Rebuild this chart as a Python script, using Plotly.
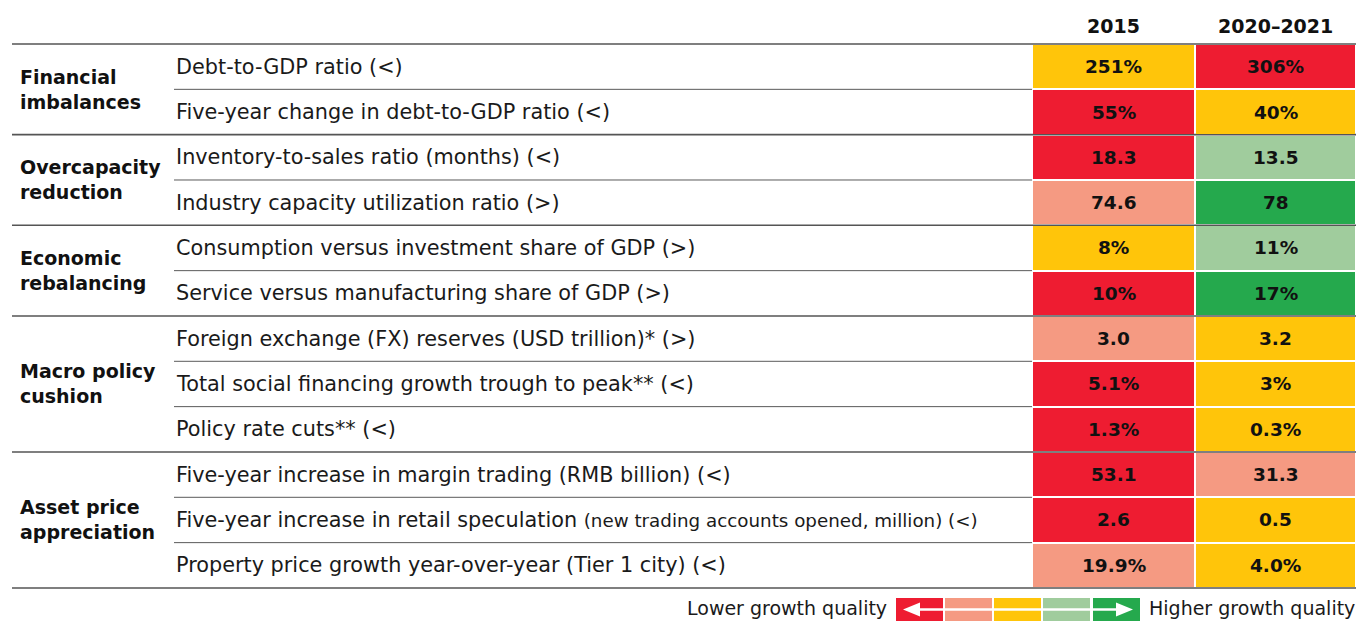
import plotly.graph_objects as go

# ---------------- data ----------------
columns = ["2015", "2020–2021"]
groups = ["Financial<br>imbalances", "Overcapacity<br>reduction", "Economic<br>rebalancing",
          "Macro policy<br>cushion", "Asset price<br>appreciation"]
group_sizes = [2, 2, 2, 3, 3]
indicators = [
    "Debt-to-GDP ratio (<)",
    "Five-year change in debt-to-GDP ratio (<)",
    "Inventory-to-sales ratio (months) (<)",
    "Industry capacity utilization ratio (>)",
    "Consumption versus investment share of GDP (>)",
    "Service versus manufacturing share of GDP (>)",
    "Foreign exchange (FX) reserves (USD trillion)* (>)",
    "Total social financing growth trough to peak** (<)",
    "Policy rate cuts** (<)",
    "Five-year increase in margin trading (RMB billion) (<)",
    "Five-year increase in retail speculation <span style='font-size:18.3px'>(new trading accounts opened, million) (<)</span>",
    "Property price growth year-over-year (Tier 1 city) (<)",
]
values_2015 = ["251%", "55%", "18.3", "74.6", "8%", "10%", "3.0", "5.1%", "1.3%", "53.1", "2.6", "19.9%"]
values_2021 = ["306%", "40%", "13.5", "78", "11%", "17%", "3.2", "3%", "0.3%", "31.3", "0.5", "4.0%"]
# rating: 0 = lower growth quality ... 4 = higher growth quality
rating_2015 = [2, 0, 0, 1, 2, 0, 1, 0, 0, 0, 0, 1]
rating_2021 = [0, 2, 3, 4, 3, 4, 2, 2, 2, 1, 2, 2]
legend_labels = ["Lower growth quality", "Higher growth quality"]

# ---------------- styling / layout ----------------
palette = ["#EE1C31", "#F59A82", "#FFC50A", "#A0CC9D", "#25A94D"]
W, H = 1356, 621
FONT = "DejaVu Sans"
FS = 20.8
FSB = 18.5
FSL = 19.0
TOP = 44.0
ROW_H = 45.33
X_LEFT = 12
X_LABEL = 174
X_CELL = [1032, 1195, 1356]
n = len(indicators)
row_edges = [TOP + i * ROW_H for i in range(n + 1)]
row_centers = [TOP + (i + 0.5) * ROW_H for i in range(n)]

colorscale = []
for k, c in enumerate(palette):
    colorscale.append([k / len(palette), c])
    colorscale.append([(k + 1) / len(palette), c])

fig = go.Figure()
z = [[rating_2015[i], rating_2021[i]] for i in range(n)]
fig.add_trace(go.Heatmap(
    x=X_CELL, y=row_edges, z=z, colorscale=colorscale, zmin=-0.5, zmax=4.5,
    showscale=False, xgap=2, ygap=2, hoverinfo="skip"))

annotations = []
shapes = []

# header
for j, col in enumerate(columns):
    annotations.append(dict(x=(X_CELL[j] + X_CELL[j + 1]) / 2, y=26, text=f"<b>{col}</b>",
                            showarrow=False, font=dict(family=FONT, size=FSB + 0.5, color="#111")))

# indicator labels and cell values
for i in range(n):
    annotations.append(dict(x=174, y=row_centers[i], text=indicators[i], xanchor="left",
                            showarrow=False, font=dict(family=FONT, size=FS, color="#1a1a1a")))
    for j, vals in enumerate([values_2015, values_2021]):
        annotations.append(dict(x=(X_CELL[j] + X_CELL[j + 1]) / 2, y=row_centers[i],
                                text=f"<b>{vals[i]}</b>", showarrow=False,
                                font=dict(family=FONT, size=FSB, color="#111")))

# row separators inside groups
start = 0
for g, size in enumerate(group_sizes):
    for k in range(1, size):
        yy = row_edges[start + k]
        shapes.append(dict(type="line", xref="x", yref="y", x0=X_LABEL, x1=X_CELL[0], y0=yy, y1=yy,
                           line=dict(color="#5a5a5a", width=1)))
    mid = (row_edges[start] + row_edges[start + size]) / 2
    annotations.append(dict(x=18, y=mid, text=f"<b>{groups[g]}</b>", xanchor="left", align="left",
                            showarrow=False, font=dict(family=FONT, size=FSB + 0.5, color="#111")))
    start += size

# group separators (full width)
start = 0
gl = [row_edges[0]]
for size in group_sizes:
    start += size
    gl.append(row_edges[start])
for yy in gl:
    shapes.append(dict(type="line", xref="x", yref="y", x0=X_LEFT, x1=W, y0=yy, y1=yy,
                       line=dict(color="#555555", width=1.6), layer="below"))

# legend
LEG_Y0, LEG_Y1 = 598, 624
leg_x = [896, 945, 994, 1043, 1093]
leg_w = 47
for k, c in enumerate(palette):
    shapes.append(dict(type="rect", xref="x", yref="y", x0=leg_x[k], x1=leg_x[k] + leg_w,
                       y0=LEG_Y0, y1=LEG_Y1, fillcolor=c, line=dict(width=0)))
ym = 609.5
shapes.append(dict(type="line", xref="x", yref="y", x0=910, x1=1126, y0=ym, y1=ym,
                   line=dict(color="white", width=2.5)))
shapes.append(dict(type="path", xref="x", yref="y",
                   path=f"M 903 {ym} L 920 {ym-7} L 920 {ym+7} Z", fillcolor="white", line=dict(width=0)))
shapes.append(dict(type="path", xref="x", yref="y",
                   path=f"M 1133 {ym} L 1116 {ym-7} L 1116 {ym+7} Z", fillcolor="white", line=dict(width=0)))
annotations.append(dict(x=889, y=608, text=legend_labels[0], xanchor="right", showarrow=False,
                        font=dict(family=FONT, size=FSL, color="#1a1a1a")))
annotations.append(dict(x=1147, y=608, text=legend_labels[1], xanchor="left", showarrow=False,
                        font=dict(family=FONT, size=FSL, color="#1a1a1a")))

fig.update_layout(
    width=W, height=H, margin=dict(l=0, r=0, t=0, b=0),
    paper_bgcolor="white", plot_bgcolor="white",
    xaxis=dict(range=[0, W], visible=False, fixedrange=True),
    yaxis=dict(range=[H, 0], visible=False, fixedrange=True),
    annotations=annotations, shapes=shapes, showlegend=False,
)
fig.write_html("out.html", config={"displayModeBar": False},
               post_script="document.body.style.margin='0';document.body.style.overflow='hidden';")
